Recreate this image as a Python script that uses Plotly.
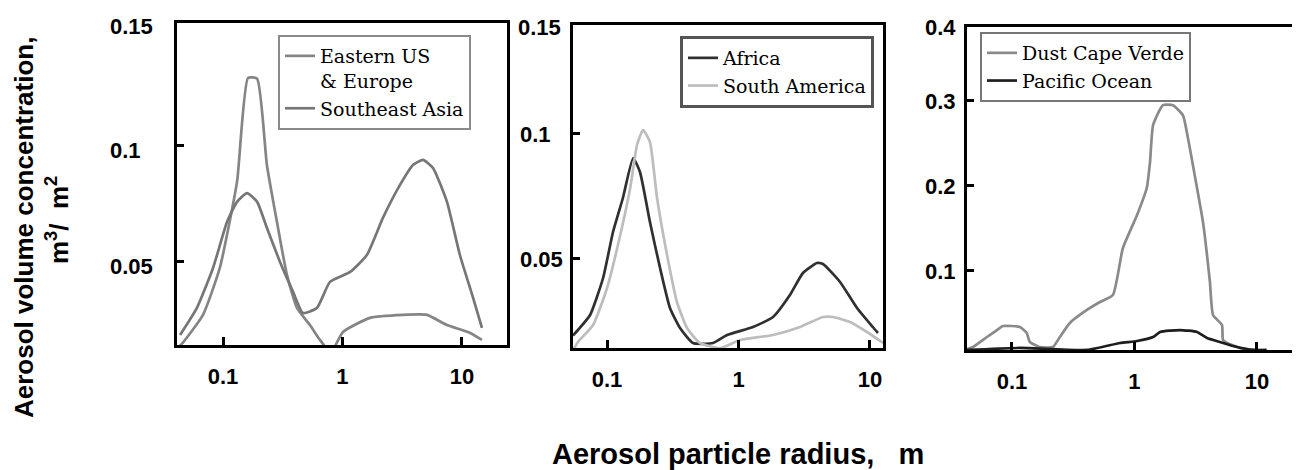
import plotly.graph_objects as go

# ---------------- data ----------------
# Panel 1
eus_r = [0.04, 0.046, 0.068, 0.094, 0.131, 0.162, 0.193, 0.233, 0.283, 0.343, 0.416, 0.534, 0.648, 0.8, 1.01, 1.70, 3.21, 5.09, 7.49, 11.7, 14.7]
eus_v = [0.012, 0.0151, 0.0272, 0.0474, 0.0845, 0.1293, 0.129, 0.0918, 0.0672, 0.0444, 0.0302, 0.0228, 0.0164, 0.011, 0.0198, 0.0259, 0.0272, 0.0272, 0.0228, 0.0194, 0.0164]
sea_r = [0.0437, 0.0605, 0.0825, 0.108, 0.131, 0.159, 0.193, 0.233, 0.300, 0.386, 0.467, 0.612, 0.786, 1.16, 1.60, 2.18, 3.03, 3.89, 4.72, 5.72, 7.49, 9.61, 12.4, 14.7]
sea_v = [0.0185, 0.0302, 0.0474, 0.0672, 0.0759, 0.0797, 0.0759, 0.0647, 0.050, 0.0371, 0.0280, 0.0302, 0.0414, 0.0457, 0.0530, 0.0690, 0.0832, 0.0918, 0.0940, 0.0905, 0.0759, 0.0530, 0.0345, 0.0216]
# Panel 2
afr_r = [0.055, 0.0601, 0.0743, 0.0933, 0.111, 0.132, 0.158, 0.178, 0.212, 0.253, 0.301, 0.359, 0.451, 0.640, 0.818, 1.29, 1.83, 2.46, 3.09, 3.95, 4.39, 5.92, 7.97, 10.5, 11.5]
afr_v = [0.019, 0.0212, 0.0272, 0.042, 0.0604, 0.074, 0.090, 0.0844, 0.0644, 0.046, 0.030, 0.022, 0.016, 0.016, 0.0192, 0.0224, 0.0264, 0.0352, 0.044, 0.048, 0.0476, 0.0404, 0.030, 0.0224, 0.020]
sam_r = [0.055, 0.0601, 0.0783, 0.1, 0.126, 0.150, 0.169, 0.188, 0.212, 0.240, 0.286, 0.340, 0.406, 0.509, 0.723, 1.03, 1.83, 2.94, 4.39, 5.24, 7.05, 9.49, 12.6]
sam_v = [0.013, 0.0164, 0.0232, 0.038, 0.0592, 0.078, 0.0952, 0.1012, 0.0964, 0.074, 0.0512, 0.0324, 0.022, 0.016, 0.014, 0.0172, 0.0192, 0.0224, 0.0264, 0.0264, 0.0244, 0.0204, 0.016]
# Panel 3
dust_r = [0.043, 0.0481, 0.0625, 0.0755, 0.0845, 0.116, 0.132, 0.140, 0.169, 0.216, 0.246, 0.297, 0.409, 0.523, 0.667, 0.805, 1.05, 1.26, 1.34, 1.42, 1.71, 2.06, 2.49, 2.68, 3.00, 3.63, 4.13, 4.38, 5.18, 5.28, 5.69, 7.26, 9.27, 12.0]
dust_v = [0.007, 0.0094, 0.0212, 0.0294, 0.0341, 0.033, 0.0259, 0.0153, 0.0094, 0.0094, 0.0212, 0.0377, 0.053, 0.0624, 0.0706, 0.1259, 0.1647, 0.1965, 0.227, 0.2706, 0.294, 0.294, 0.282, 0.262, 0.2235, 0.156, 0.086, 0.047, 0.0353, 0.0177, 0.0141, 0.0083, 0.006, 0.005]
pac_r = [0.043, 0.116, 0.409, 0.762, 1.05, 1.42, 1.62, 2.35, 3.24, 3.91, 4.99, 6.87, 9.27, 12.0]
pac_v = [0.006, 0.0083, 0.006, 0.0141, 0.0165, 0.0212, 0.0271, 0.0294, 0.0271, 0.020, 0.0153, 0.0094, 0.006, 0.006]

x_tickvals = [0.1, 1, 10]
x_ticktext = ["0.1", "1", "10"]
p1_yticks = [0.05, 0.1]
p1_ylabels = ["0.05", "0.1"]
p2_yticks = [0.05, 0.1]
p2_ylabels = ["0.05", "0.1"]
p3_yticks = [0.1, 0.2, 0.3]
p3_ylabels = ["0.1", "0.2", "0.3"]
top_labels = ["0.15", "0.15", "0.4"]

# the page body adds an 8px margin, so the figure is drawn 8px in from the window corner
OFF = 8
W, H = 1300 - OFF, 470 - OFF
SANS = "Liberation Sans, Arial, sans-serif"
SERIF = "DejaVu Serif, Liberation Serif, serif"


def px(x):
    return (x - OFF) / W


def py(y):
    return 1 - (y - OFF) / H


fig = go.Figure()

line_kw = dict(shape="spline", smoothing=0.5, width=2.7)

fig.add_trace(go.Scatter(x=eus_r, y=eus_v, mode="lines", name="Eastern US<br>& Europe",
                         line=dict(color="#858585", **line_kw), xaxis="x", yaxis="y", legend="legend"))
fig.add_trace(go.Scatter(x=sea_r, y=sea_v, mode="lines", name="Southeast Asia",
                         line=dict(color="#767676", **line_kw), xaxis="x", yaxis="y", legend="legend"))
fig.add_trace(go.Scatter(x=afr_r, y=afr_v, mode="lines", name="Africa",
                         line=dict(color="#303030", **line_kw), xaxis="x2", yaxis="y2", legend="legend2"))
fig.add_trace(go.Scatter(x=sam_r, y=sam_v, mode="lines", name="South America",
                         line=dict(color="#bdbdbd", **line_kw), xaxis="x2", yaxis="y2", legend="legend2"))
fig.add_trace(go.Scatter(x=dust_r, y=dust_v, mode="lines", name="Dust Cape Verde",
                         line=dict(color="#8a8a8a", **line_kw), xaxis="x3", yaxis="y3", legend="legend3"))
fig.add_trace(go.Scatter(x=pac_r, y=pac_v, mode="lines", name="Pacific Ocean",
                         line=dict(color="#1e1e1e", **line_kw), xaxis="x3", yaxis="y3", legend="legend3"))

panels = [
    # (x0, x1, ytop, ybottom, xrange(log), yrange, yticks)
    (177, 507, 23, 345, [-1.385, 1.377], [0.0142, 0.153], p1_yticks),
    (573, 883, 25, 348, [-1.259, 1.099], [0.014, 0.1432], p2_yticks),
    (967, 1297, 27, 350, [-1.367, 1.327], [0.0059, 0.386], p3_yticks),
]

axis_common = dict(showline=True, mirror=True, linecolor="black", linewidth=3,
                   showgrid=False, zeroline=False)

for i, (x0, x1, yt, yb, xr, yr, ytk) in enumerate(panels):
    sfx = "" if i == 0 else str(i + 1)
    fig.layout["xaxis" + sfx] = dict(
        type="log", range=xr, domain=[px(x0), px(x1)], anchor="y" + sfx,
        tickvals=x_tickvals, ticktext=x_ticktext, ticks="inside", ticklen=8,
        tickwidth=3, tickcolor="black", ticklabelstandoff=10,
        tickfont=dict(family=SANS, size=22, color="black", weight="bold"),
        **axis_common)
    fig.layout["yaxis" + sfx] = dict(
        range=yr, domain=[py(yb), py(yt)], anchor="x" + sfx,
        tickvals=ytk, ticks="inside", ticklen=7, tickwidth=3, tickcolor="black",
        showticklabels=False, **axis_common)

annotations = []
label_font = dict(family=SANS, size=22, color="black", weight="bold")
ylab_sets = [
    ("y", p1_yticks, p1_ylabels, 108, -5),
    ("y2", p2_yticks, p2_ylabels, 518, -1),
    ("y3", p3_yticks, p3_ylabels, 923, -1),
]
for yref, vals, texts, left, shift in ylab_sets:
    for v, t in zip(vals, texts):
        annotations.append(dict(x=px(left), xref="paper", y=v, yref=yref, text=t,
                                showarrow=False, xanchor="left", yanchor="middle",
                                yshift=shift, font=label_font))
# top-most y labels sitting at the frame tops
for (left, ytop), t in zip([(108, 27), (516, 28), (923, 28)], top_labels):
    annotations.append(dict(x=px(left), xref="paper", y=py(ytop), yref="paper", text=t,
                            showarrow=False, xanchor="left", yanchor="middle", font=label_font))

# axis titles
annotations.append(dict(x=px(738), y=py(454), xref="paper", yref="paper",
                        text="Aerosol particle radius,\u00a0\u00a0\u00a0m", showarrow=False,
                        xanchor="center", yanchor="middle",
                        font=dict(family=SANS, size=29, color="black", weight="bold")))
annotations.append(dict(x=0, y=py(228), xref="paper", yref="paper",
                        text="Aerosol volume concentration,", showarrow=False, textangle=-90,
                        xanchor="left", yanchor="middle", borderpad=0,
                        font=dict(family=SANS, size=26, color="black", weight="bold")))
annotations.append(dict(x=px(57), y=py(220), xref="paper", yref="paper",
                        text="m<sup>3</sup>/\u00a0\u00a0m<sup>2</sup>", showarrow=False, textangle=-90,
                        xanchor="center", yanchor="middle",
                        font=dict(family=SANS, size=26, color="black", weight="bold")))

legend_font = dict(family=SERIF, size=19, color="black")
leg_common = dict(xanchor="left", yanchor="top", bgcolor="white", font=legend_font,
                  itemwidth=30, valign="top", tracegroupgap=0)

fig.update_layout(
    width=W, height=H,
    margin=dict(l=0, r=0, t=0, b=0),
    paper_bgcolor="white", plot_bgcolor="white",
    showlegend=True,
    legend=dict(x=px(278), y=py(35), bordercolor="#8a8a8a", borderwidth=2, **leg_common),
    legend2=dict(x=px(680), y=py(36), bordercolor="#555555", borderwidth=3, **leg_common),
    legend3=dict(x=px(980), y=py(32), bordercolor="#777777", borderwidth=2, **leg_common),
    annotations=annotations,
)

fig.write_html("out.html")
